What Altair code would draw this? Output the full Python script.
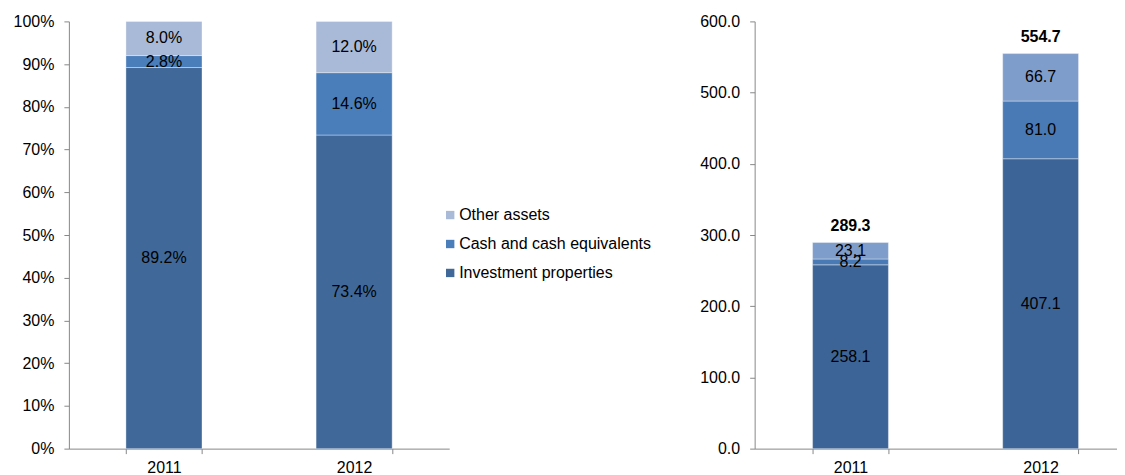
import altair as alt
import pandas as pd

years = ["2011", "2012"]
categories = ["Investment properties", "Cash and cash equivalents", "Other assets"]
legend_order = ["Other assets", "Cash and cash equivalents", "Investment properties"]

share_invest = [89.2, 73.4]
share_cash = [2.8, 14.6]
share_other = [8.0, 12.0]

value_invest = [258.1, 407.1]
value_cash = [8.2, 81.0]
value_other = [23.1, 66.7]
totals = [289.3, 554.7]

pct_ticks = [0, 10, 20, 30, 40, 50, 60, 70, 80, 90, 100]
value_ticks = [0, 100, 200, 300, 400, 500, 600]

left_colors = ["#A9B9D8", "#4A7EBB", "#40699A"]
right_colors = ["#7F9DCA", "#4A7AB5", "#3D6497"]

FONT = "Liberation Sans"
FS = 16


def long_table(series):
    rows = []
    for ci, (cat, vals) in enumerate(zip(categories, series)):
        for yr, v in zip(years, vals):
            rows.append({"year": yr, "category": cat, "order": ci, "value": v})
    return pd.DataFrame(rows)


left_df = long_table([share_invest, share_cash, share_other])
right_df = long_table([value_invest, value_cash, value_other])
tot_df = pd.DataFrame({"year": years, "total": totals})


def x_enc(scale):
    return alt.X(
        "year:N",
        title=None,
        sort=years,
        scale=scale,
        axis=alt.Axis(
            labelAngle=0, tickBand="extent", labelFont=FONT, labelFontSize=FS,
            labelColor="#000000", domainColor="#888888", tickColor="#888888",
            tickSize=5, labelPadding=6,
        ),
    )


def y_axis(ticks, expr):
    return alt.Axis(
        values=ticks, labelExpr=expr, grid=False, title=None,
        labelFont=FONT, labelFontSize=FS, labelColor="#000000",
        domainColor="#888888", tickColor="#888888", tickSize=5, labelPadding=10,
    )


def stacked(df, colors, domain, ticks, axis_expr, text_expr, legend, xscale, width):
    base = alt.Chart(df).transform_stack(
        stack="value", groupby=["year"], as_=["y0", "y1"],
        sort=[alt.SortField("order", order="ascending")],
    ).transform_calculate(
        mid="(datum.y0 + datum.y1) / 2", lbl=text_expr
    )
    bars = base.mark_bar(stroke="#FFFFFF", strokeWidth=0.8, strokeOpacity=0.45).encode(
        x=x_enc(xscale),
        y=alt.Y("y0:Q", scale=alt.Scale(domain=domain, nice=False, zero=True),
                axis=y_axis(ticks, axis_expr)),
        y2="y1:Q",
        color=alt.Color("category:N",
                        scale=alt.Scale(domain=legend_order, range=colors),
                        legend=legend),
    )
    text = base.mark_text(font=FONT, fontSize=FS, color="#000000").encode(
        x=alt.X("year:N", sort=years),
        y="mid:Q",
        text="lbl:N",
    )
    return alt.layer(bars, text).properties(width=width, height=428)


left_legend = alt.Legend(
    title=None, orient="none", legendX=374, legendY=186, direction="vertical",
    symbolType="square", symbolSize=70, symbolStrokeWidth=0,
    labelFont=FONT, labelFontSize=FS, labelColor="#000000", labelLimit=0,
    rowPadding=13, labelOffset=1, padding=0,
)

left = stacked(
    left_df, left_colors, [0, 100], pct_ticks, "datum.value + '%'",
    "format(datum.value, '.1f') + '%'", left_legend,
    alt.Scale(paddingInner=0.6, paddingOuter=0.3), 381,
)

right_base = stacked(
    right_df, right_colors, [0, 600], value_ticks, "format(datum.value, '.1f')",
    "format(datum.value, '.1f')", None,
    alt.Scale(paddingInner=0.601, paddingOuter=0.2535, align=0.601), 363,
)

tot_text = alt.Chart(tot_df).mark_text(
    font=FONT, fontSize=FS, fontWeight="bold", color="#000000", dy=-17
).encode(
    x=alt.X("year:N", sort=years),
    y=alt.Y("total:Q"),
    text=alt.Text("total:Q", format=".1f"),
)

right = alt.layer(right_base, tot_text).properties(width=363, height=428)

chart = alt.hconcat(left, right, spacing=306, bounds="flush").resolve_scale(
    color="independent"
).properties(
    padding={"left": 5, "top": 5, "right": 0, "bottom": 0}
).configure_view(stroke=None)

chart.save("out.html", embed_options={"renderer": "svg", "actions": False})
